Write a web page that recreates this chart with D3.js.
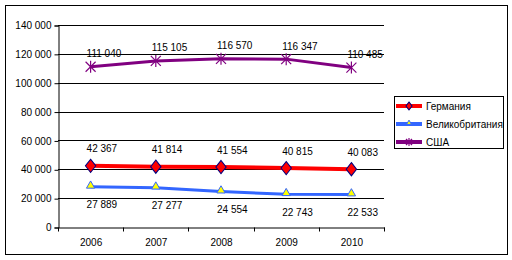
<!DOCTYPE html>
<html>
<head>
<meta charset="utf-8">
<script src="https://cdn.jsdelivr.net/npm/d3@7"></script>
<style>
body { margin: 0; background: #fff; }
svg text { font-family: Arial, "Liberation Sans", sans-serif; font-size: 10px; fill: #000; }
</style>
</head>
<body>
<svg id="chart" width="512" height="260"></svg>
<script>
var years = ['2006', '2007', '2008', '2009', '2010'];
var germany = [42367, 41814, 41554, 40815, 40083];
var uk = [27889, 27277, 24554, 22743, 22533];
var usa = [111040, 115105, 116570, 116347, 110485];
var yTicks = [0, 20000, 40000, 60000, 80000, 100000, 120000, 140000];

var series = [
    { name: 'Германия', values: germany, color: '#ff0000', width: 4, marker: 'diamond', labelDy: -17 },
    { name: 'Великобритания', values: uk, color: '#3366ff', width: 3, marker: 'triangle', labelDy: 18 },
    { name: 'США', values: usa, color: '#800080', width: 3, marker: 'star', labelDy: -13 }
];

var fmt = v => d3.format(',')(v).replace(/,/g, ' ');

var svg = d3.select('#chart');

// outer frame
svg.append('rect')
    .attr('x', 5.5).attr('y', 5.5)
    .attr('width', 502).attr('height', 249)
    .attr('fill', 'none').attr('stroke', '#000');

var x = d3.scaleBand().domain(years).range([58, 384]);
var y = d3.scaleLinear().domain([0, 140000]).range([227, 25]);

// gridlines
svg.append('g').selectAll('line')
    .data(yTicks.filter(d => d > 0))
    .enter().append('line')
    .attr('x1', 58).attr('x2', 384)
    .attr('y1', d => Math.round(y(d)) + 0.5)
    .attr('y2', d => Math.round(y(d)) + 0.5)
    .attr('stroke', '#000');

var yAxis = svg.append('g')
    .attr('transform', 'translate(58.5,0.5)')
    .call(d3.axisLeft(y).tickValues(yTicks).tickFormat(fmt).tickSize(4).tickPadding(3));
yAxis.select('.domain').attr('stroke', '#000');
yAxis.selectAll('text').style('font-size', '10px').attr('fill', '#000');

var xAxis = svg.append('g')
    .attr('transform', 'translate(0.5,' + (Math.round(y(0)) + 0.5) + ')')
    .call(d3.axisBottom(x).tickSize(0).tickPadding(11));
xAxis.select('.domain').attr('stroke', '#000');
xAxis.selectAll('text').style('font-size', '10px').attr('fill', '#000');
// ticks at category boundaries
xAxis.selectAll('.bound')
    .data(years.concat(['end']))
    .enter().append('line')
    .attr('x1', (d, i) => Math.round(58 + i * x.step()))
    .attr('x2', (d, i) => Math.round(58 + i * x.step()))
    .attr('y1', 0).attr('y2', 4)
    .attr('stroke', '#000');

var cx = d => x(d) + x.bandwidth() / 2;

function drawMarker(g, type, color, px, py, k) {
    k = k || 1;
    if (type == 'diamond') {
        g.append('path')
            .attr('d', d3.symbol(d3.symbolDiamond, 70)())
            .attr('transform', 'translate(' + px + ',' + py + ') scale(' + 1.15 * k + ',' + 0.85 * k + ')')
            .attr('fill', '#ff0000').attr('stroke', '#000080').attr('stroke-width', 1 / k);
    } else if (type == 'triangle') {
        g.append('path')
            .attr('d', d3.symbol(d3.symbolTriangle, 30)())
            .attr('transform', 'translate(' + px + ',' + (py - 1) + ') scale(' + k + ')')
            .attr('fill', '#ffff00').attr('stroke', '#3366ff').attr('stroke-width', 1 / k);
    } else {
        var r = 5 * k;
        var s = g.append('g').attr('transform', 'translate(' + px + ',' + py + ')')
            .attr('stroke', color).attr('stroke-width', 1.2);
        s.append('line').attr('x1', -r).attr('y1', -r).attr('x2', r).attr('y2', r);
        s.append('line').attr('x1', -r).attr('y1', r).attr('x2', r).attr('y2', -r);
        s.append('line').attr('x1', 0).attr('y1', -r - 1).attr('x2', 0).attr('y2', r + 1);
    }
}

var line = d3.line().x(d => cx(d.year)).y(d => y(d.v));

series.forEach(s => {
    var pts = s.values.map((v, i) => ({ year: years[i], v: v }));
    var g = svg.append('g');
    g.append('path')
        .attr('d', line(pts))
        .attr('fill', 'none')
        .attr('stroke', s.color)
        .attr('stroke-width', s.width);
    pts.forEach(p => drawMarker(g, s.marker, s.color, cx(p.year), y(p.v)));
    g.selectAll('.lbl')
        .data(pts)
        .enter().append('text')
        .attr('x', d => cx(d.year) - 4)
        .attr('y', d => y(d.v) + s.labelDy)
        .attr('dy', '0.35em')
        .text(d => fmt(d.v));
});

// legend
var lg = svg.append('g');
lg.append('rect')
    .attr('x', 394.5).attr('y', 96.5)
    .attr('width', 109).attr('height', 52)
    .attr('fill', '#fff').attr('stroke', '#000');
series.forEach((s, i) => {
    var ly = 106 + i * 18;
    lg.append('line')
        .attr('x1', 396).attr('x2', 422)
        .attr('y1', ly).attr('y2', ly)
        .attr('stroke', s.color).attr('stroke-width', 4);
    drawMarker(lg, s.marker, s.color, 409, ly, 0.6);
    lg.append('text')
        .attr('x', 426).attr('y', ly)
        .attr('dy', '0.35em')
        .text(s.name);
});
</script>
</body>
</html>
